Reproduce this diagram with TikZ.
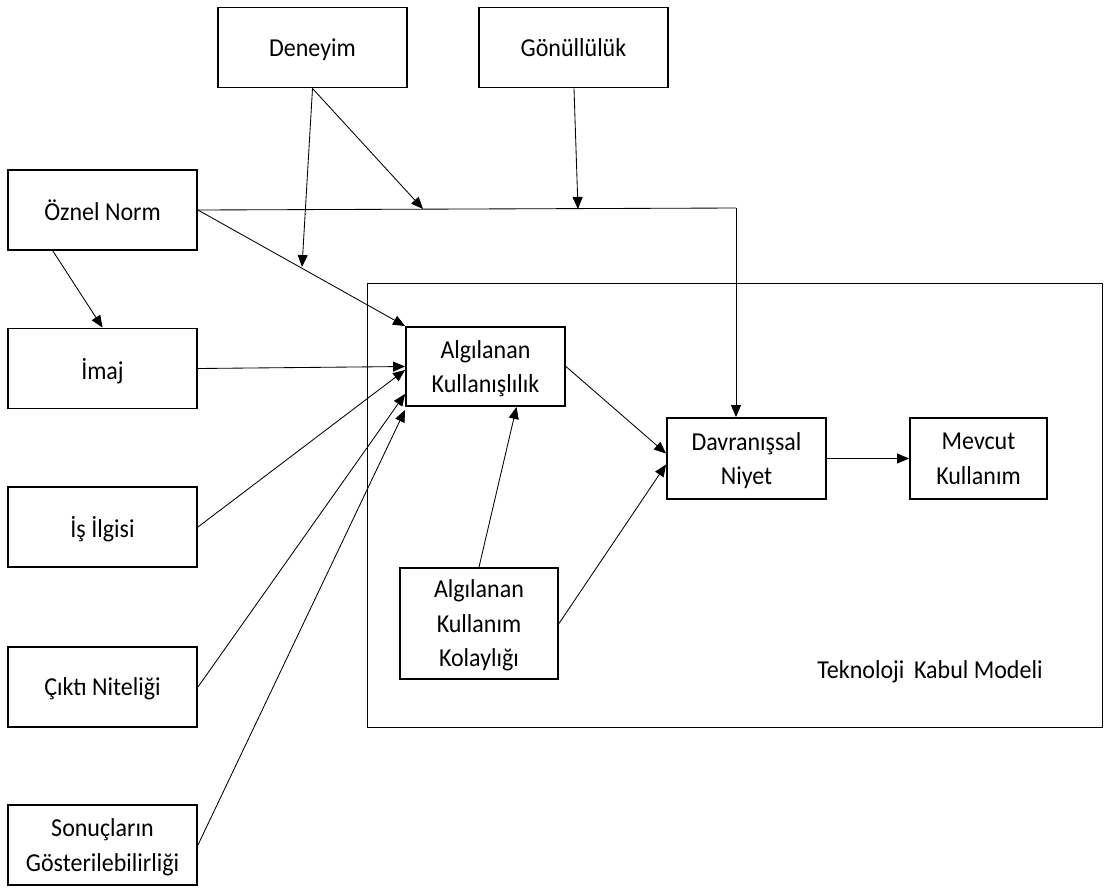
\documentclass[tikz,border=0pt]{standalone}
\usepackage{fontspec}
\setmainfont{Carlito}[FakeStretch=0.93]
\usetikzlibrary{arrows.meta,calc}
\begin{document}
\begin{tikzpicture}[x=1pt,y=-1pt,
  box/.style={draw, line width=1.9pt, inner sep=0pt, align=center, text depth=0pt,
              font=\fontsize{25.8}{34.5}\selectfont},
  lbox/.style={box, minimum width=189pt, minimum height=80pt},
  arr/.style={line width=0.85pt, -{Triangle[length=12pt,width=10pt]}},
  ln/.style={line width=0.85pt}]
\useasboundingbox (0,0) rectangle (1105,887);

% model frame
\node[draw, line width=1pt, inner sep=0pt, minimum width=735pt, minimum height=444pt]
  (tam) at (734.5,505) {};
\node[font=\fontsize{25.8}{30}\selectfont] (tamlabel) at (930,672) {Teknoloji\, Kabul Modeli};

% external variables
\node[lbox] (den) at (312.5,47.5) {Deneyim};
\node[lbox] (gon) at (573.5,47.5) {Gönüllülük};
\node[lbox] (oz)  at (102.5,210)  {Öznel Norm};
\node[lbox] (im)  at (102.5,368.5) {İmaj};
\node[lbox] (is)  at (102.5,527)  {İş İlgisi};
\node[lbox] (ck)  at (102.5,687)  {Çıktı Niteliği};
\node[lbox] (so)  at (102.5,845)  {Sonuçların\\Gösterilebilirliği};

% core model
\node[box, minimum width=159pt, minimum height=79pt]  (ak)  at (485.5,366.5) {Algılanan\\Kullanışlılık};
\node[box, minimum width=159pt, minimum height=81pt]  (dn)  at (746.5,458.5) {Davranışsal\\Niyet};
\node[box, minimum width=137pt, minimum height=81pt]  (mk)  at (978.5,458.5) {Mevcut\\Kullanım};
\node[box, minimum width=158pt, minimum height=111pt] (akk) at (479,623.5)   {Algılanan\\Kullanım\\Kolaylığı};

% moderator targets
\coordinate (m1) at (302,267);
\coordinate (m2) at (423,209);
\coordinate (m3) at (578,209);
\coordinate (k1) at (736,208);

% connectors
\draw[ln] (oz.east) -- (k1);
\draw[arr] (k1) -- (k1 |- dn.north);
\draw[arr] (oz.east) -- (ak.north west);
\draw[arr] ($(oz.south west)!0.24!(oz.south east)$) -- (im.north);
\draw[arr] (den.south) -- (m1);
\draw[arr] (den.south) -- (m2);
\draw[arr] ([xshift=0.5pt]gon.south) -- (m3);
\draw[arr] (im.east) -- (ak.west);
\draw[arr] (is.east) -- ([yshift=-3.5pt]ak.west);
\draw[arr] (ck.east) -- ([yshift=13pt]ak.south west);
\draw[arr] (so.east) -- ([yshift=-3pt]ak.south west);
\draw[arr] (ak.east) -- ([yshift=5pt]dn.west);
\draw[arr] (akk.east) -- ([yshift=-6pt]dn.west);
\draw[arr] (akk.north) -- ([xshift=31pt]ak.south);
\draw[arr] (dn.east) -- (mk.west);
\end{tikzpicture}
\end{document}
